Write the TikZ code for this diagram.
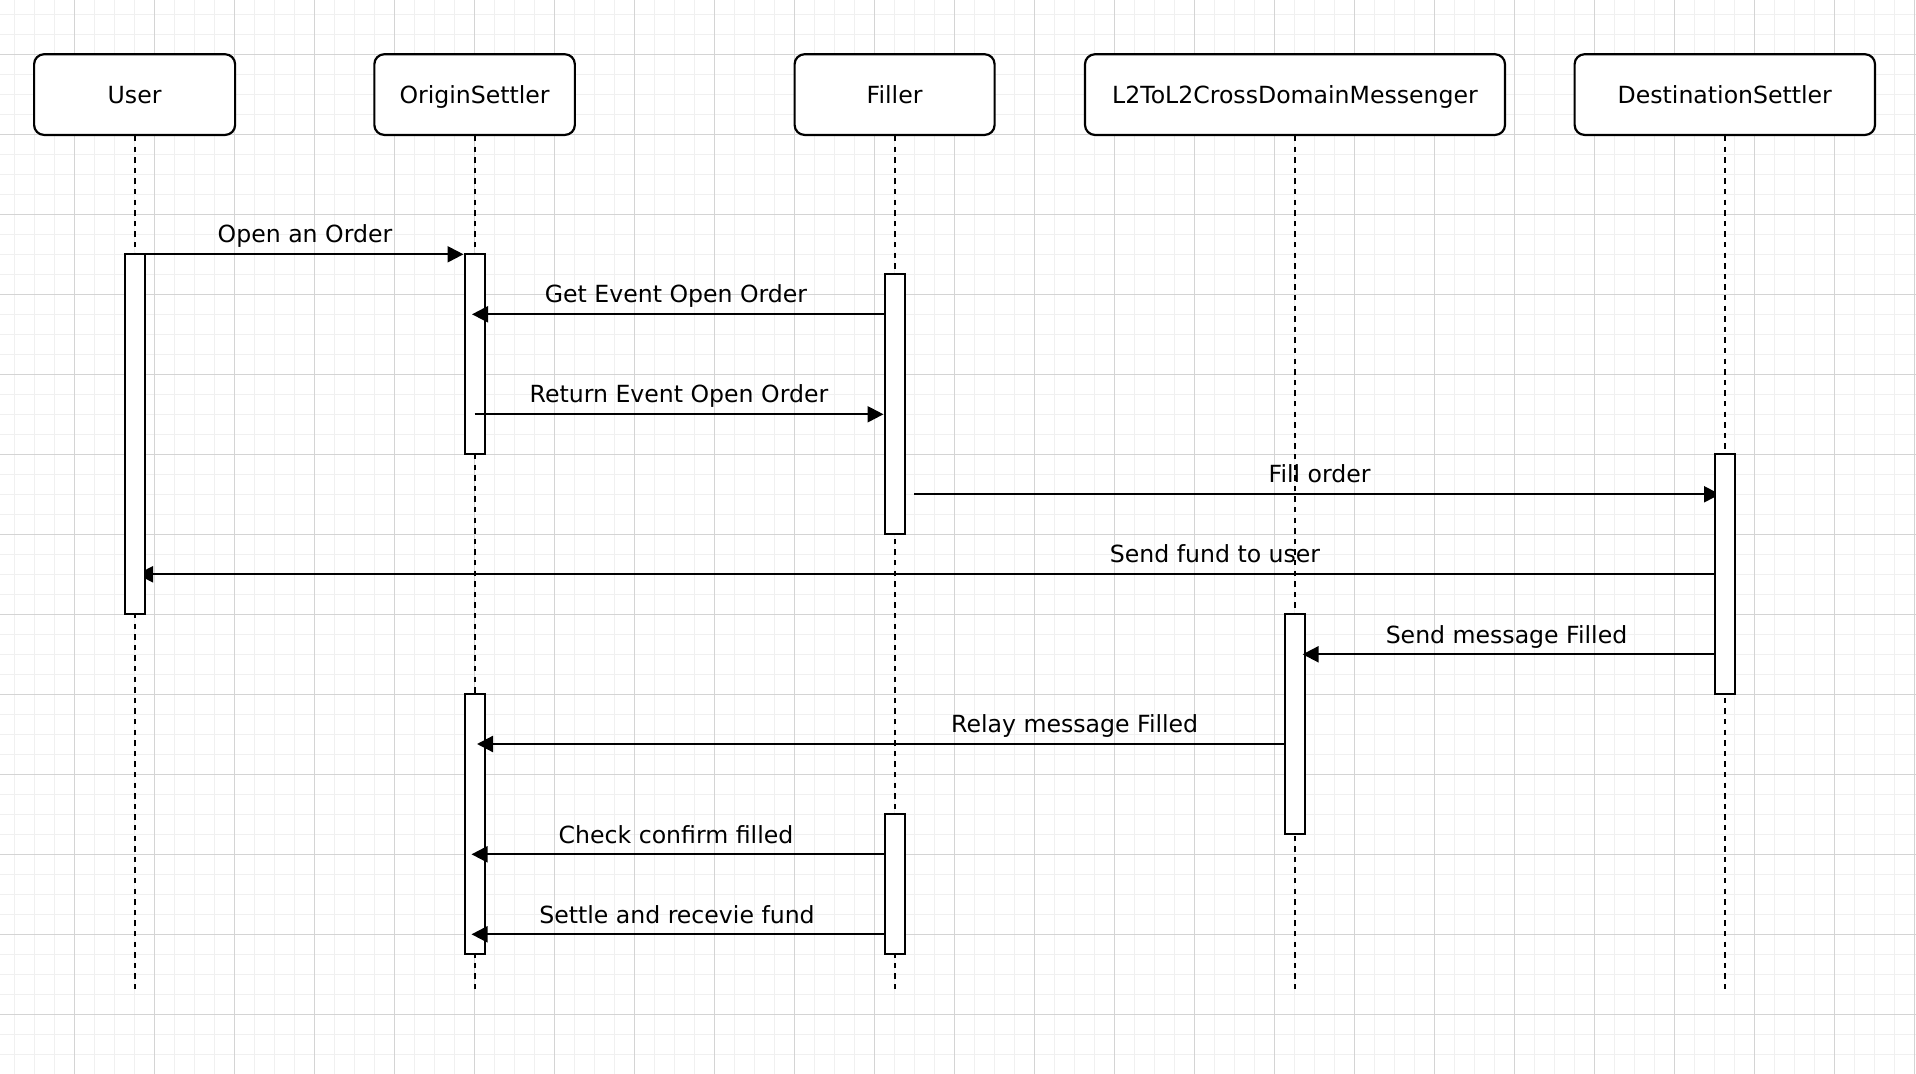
\documentclass[tikz,border=0pt]{standalone}
\usepackage{fontspec}
\setmainfont{DejaVu Sans}
\usetikzlibrary{arrows.meta}
\definecolor{gridminor}{HTML}{F0F0F0}
\definecolor{gridmajor}{HTML}{D4D4D4}
\begin{document}
\begin{tikzpicture}[x=0.5pt,y=-0.5pt,
  font=\fontsize{11.8pt}{14pt}\selectfont,
  minorline/.style={gridminor,line width=0.5pt},
  majorline/.style={gridmajor,line width=0.5pt},
  participant/.style={draw,fill=white,line width=1.1pt,rounded corners=5pt,
    minimum height=40.35pt,inner sep=0pt,text height=8.6pt,text depth=0pt},
  actbox/.style={draw,fill=white,line width=1.1pt,minimum width=10pt,inner sep=0pt},
  lifeline/.style={line width=1pt,dash pattern=on 2.7pt off 2.6pt},
  msg/.style={line width=1.1pt,-{Triangle[length=8pt,width=8pt]}},
  lbl/.style={anchor=base,inner sep=0pt}]
\useasboundingbox (0,0) rectangle (1916,1074);
\fill[white] (0,0) rectangle (1916,1074);
% grid
\foreach \i in {0,...,95} \draw[minorline] ({14+20*\i},0) -- ({14+20*\i},1074);
\foreach \j in {0,...,53} \draw[minorline] (0,{14.3+20*\j}) -- (1916,{14.3+20*\j});
\foreach \i in {0,...,23} \draw[majorline] ({74+80*\i},0) -- ({74+80*\i},1074);
\foreach \j in {0,...,13} \draw[majorline] (0,{54.3+80*\j}) -- (1916,{54.3+80*\j});

% participants
\node[participant,minimum width=100.5pt] (user) at (134.6,94.6) {User};
\node[participant,minimum width=100.25pt] (origin) at (474.6,94.6) {OriginSettler};
\node[participant,minimum width=100pt] (filler) at (894.6,94.6) {Filler};
\node[participant,minimum width=210pt] (msgr) at (1295,94.6) {L2ToL2CrossDomainMessenger};
\node[participant,minimum width=150.2pt] (dest) at (1724.8,94.6) {DestinationSettler};

% lifeline ends
\coordinate (userEnd) at (134.6,992);
\coordinate (originEnd) at (474.6,992);
\coordinate (fillerEnd) at (894.6,992);
\coordinate (msgrEnd) at (1295,992);
\coordinate (destEnd) at (1724.8,992);
\draw[lifeline] (user.south) -- (userEnd);
\draw[lifeline] (origin.south) -- (originEnd);
\draw[lifeline] (filler.south) -- (fillerEnd);
\draw[lifeline] (msgr.south) -- (msgrEnd);
\draw[lifeline] (dest.south) -- (destEnd);

% message rows / free ends
\coordinate (fillStart) at (914,494.3);
\coordinate (fillTip) at (1720,494.3);
\coordinate (fundStart) at (1718.6,574.3);
\coordinate (fundTip) at (137,574.3);

% arrows drawn beneath activation boxes
\draw[msg] (fillStart) -- (fillTip);
\draw[msg] (fundStart) -- (fundTip);

% activation boxes
\node[actbox,minimum height=180pt] (uact) at (134.6,434.3) {};
\node[actbox,minimum height=100pt] (oact1) at (474.6,354.3) {};
\node[actbox,minimum height=130pt] (fact1) at (894.6,404.3) {};
\node[actbox,minimum height=120pt] (dact) at (1724.8,574.3) {};
\node[actbox,minimum height=110pt] (lact) at (1295,724.3) {};
\node[actbox,minimum height=130pt] (oact2) at (474.6,824.3) {};
\node[actbox,minimum height=70pt] (fact2) at (894.6,884.3) {};

% row coordinates
\coordinate (r1) at (0,254.3);
\coordinate (r2) at (0,314.3);
\coordinate (r3) at (0,414.3);
\coordinate (r6) at (0,654.3);
\coordinate (r7) at (0,744);
\coordinate (r8) at (0,854.3);
\coordinate (r9) at (0,934.3);
\coordinate (getTip) at (472,314.3);
\coordinate (retStart) at (474.6,414.3);
\coordinate (sendTip) at (1302.6,654.3);
\coordinate (relayTip) at (477,744);
\coordinate (checkTip) at (471.5,854.3);
\coordinate (settleTip) at (471.5,934.3);

\draw[msg] (uact.east |- r1) -- (oact1.west |- r1);
\draw[msg] (fact1.west |- r2) -- (getTip);
\draw[msg] (retStart) -- (fact1.west |- r3);
\draw[msg] (dact.west |- r6) -- (sendTip);
\draw[msg] (lact.west |- r7) -- (relayTip);
\draw[msg] (fact2.west |- r8) -- (checkTip);
\draw[msg] (fact2.west |- r9) -- (settleTip);

% labels
\node[lbl] (l1) at (305,243) {Open an Order};
\node[lbl] (l2) at (676,303) {Get Event Open Order};
\node[lbl] (l3) at (679,403) {Return Event Open Order};
\node[lbl] (l4) at (1319.6,483) {Fill order};
\node[lbl] (l5) at (1215,563) {Send fund to user};
\node[lbl] (l6) at (1506.5,643) {Send message Filled};
\node[lbl] (l7) at (1074.7,732.3) {Relay message Filled};
\node[lbl] (l8) at (676,843) {Check confirm filled};
\node[lbl] (l9) at (677,923) {Settle and recevie fund};
\end{tikzpicture}
\end{document}
